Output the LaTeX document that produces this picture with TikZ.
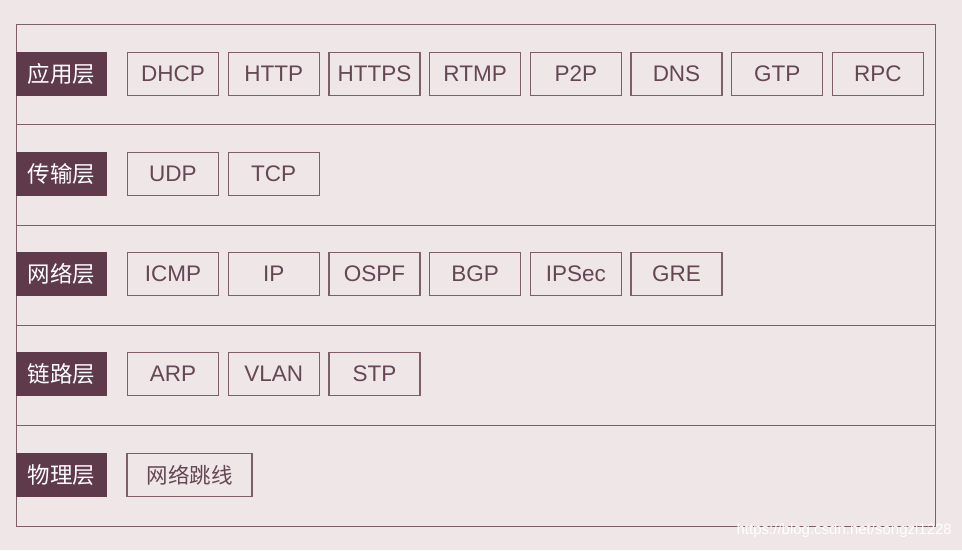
\documentclass[tikz,border=0pt]{standalone}
\usepackage{fontspec}
\setmainfont{Liberation Sans}
\newfontfamily\cjk{Noto Sans CJK SC}
\definecolor{bgpink}{HTML}{EEE6E7}
\definecolor{plum}{HTML}{5F3A4B}
\definecolor{plumline}{HTML}{7D5E6A}
\definecolor{plumtext}{HTML}{654654}

\tikzset{
  layer/.style={fill=plum, text=white, minimum width=91pt, minimum height=44pt, inner sep=0pt, font=\cjk\fontsize{22.5}{22.5}\selectfont},
  proto/.style={draw=plumline, line width=1.2pt, text=plumtext, minimum width=91pt, minimum height=43pt, inner sep=0pt, font=\fontsize{22.5}{22.5}\selectfont},
}

\begin{document}
\begin{tikzpicture}[x=1pt,y=-1pt]

	% Background
	\fill[bgpink] (0,0) rectangle (962,550);
	\useasboundingbox (0,0) rectangle (962,550);

	% Frame and row lines
	\draw[plumline, line width=1pt] (16,24) rectangle (935,526);
	\draw[plumline, line width=1pt] (16,124) -- (935,124);
	\draw[plumline, line width=1pt] (16,225) -- (935,225);
	\draw[plumline, line width=1pt] (16,325) -- (935,325);
	\draw[plumline, line width=1pt] (16,425) -- (935,425);

	% Application layer
	\node[layer] (app) at (61.5,74) {应用层};
	\node[proto] (dhcp)  at (173,74) {DHCP};
	\node[proto] (http)  at (273.7,74) {HTTP};
	\node[proto] (https) at (374.4,74) {HTTPS};
	\node[proto] (rtmp)  at (475.1,74) {RTMP};
	\node[proto] (ptp)   at (575.8,74) {P2P};
	\node[proto] (dns)   at (676.5,74) {DNS};
	\node[proto] (gtp)   at (777.2,74) {GTP};
	\node[proto] (rpc)   at (877.9,74) {RPC};

	% Transport layer
	\node[layer] (trans) at (61.5,174) {传输层};
	\node[proto] (udp) at (173,174) {UDP};
	\node[proto] (tcp) at (273.7,174) {TCP};

	% Network layer
	\node[layer] (net) at (61.5,274) {网络层};
	\node[proto] (icmp)  at (173,274) {ICMP};
	\node[proto] (ip)    at (273.7,274) {IP};
	\node[proto] (ospf)  at (374.4,274) {OSPF};
	\node[proto] (bgp)   at (475.1,274) {BGP};
	\node[proto] (ipsec) at (575.8,274) {IPSec};
	\node[proto] (gre)   at (676.5,274) {GRE};

	% Link layer
	\node[layer] (link) at (61.5,374) {链路层};
	\node[proto] (arp)  at (173,374) {ARP};
	\node[proto] (vlan) at (273.7,374) {VLAN};
	\node[proto] (stp)  at (374.4,374) {STP};

	% Physical layer
	\node[layer] (phys) at (61.5,475) {物理层};
	\node[proto, minimum width=125pt, font=\cjk\fontsize{21.5}{21.5}\selectfont] (cable) at (189.5,475) {网络跳线};

	% Watermark
	\node[text=white, anchor=east, inner sep=0pt, font=\fontsize{15}{15}\selectfont] (mark) at (952,531) {https://blog.csdn.net/songzi1228};

\end{tikzpicture}
\end{document}
